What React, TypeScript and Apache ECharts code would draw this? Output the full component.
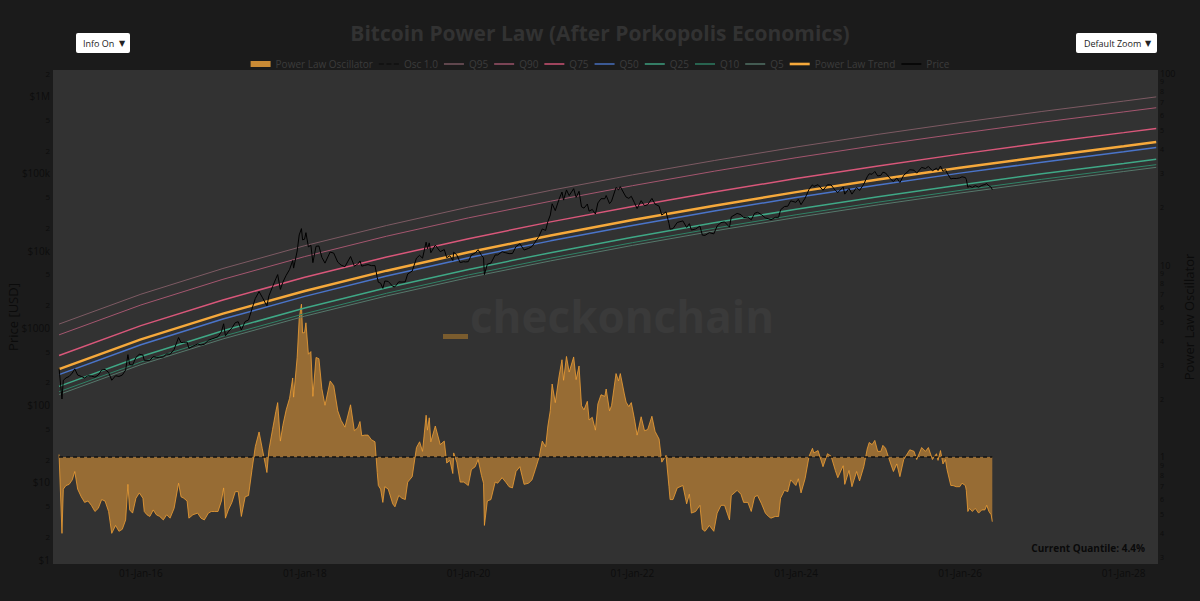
import React, { useEffect, useRef } from 'react';
import * as echarts from 'echarts';

// ---------- DATA ----------
const dates = [
  '2015-01-01','2015-01-14','2015-01-20','2015-02-01','2015-02-15','2015-03-01','2015-03-12','2015-03-25','2015-04-10','2015-04-25','2015-05-10','2015-05-25','2015-06-10','2015-06-25','2015-07-10','2015-07-25','2015-08-10','2015-08-24','2015-09-10','2015-09-25','2015-10-10','2015-10-25','2015-11-04','2015-11-12','2015-11-25','2015-12-10','2015-12-25',
  '2016-01-10','2016-01-16','2016-01-28','2016-02-10','2016-02-25','2016-03-10','2016-03-25','2016-04-10','2016-04-25','2016-05-10','2016-05-28','2016-06-17','2016-06-28','2016-07-10','2016-07-25','2016-08-02','2016-08-20','2016-09-10','2016-09-25','2016-10-10','2016-10-28','2016-11-10','2016-11-25','2016-12-10','2016-12-25',
  '2017-01-04','2017-01-12','2017-01-25','2017-02-10','2017-02-25','2017-03-10','2017-03-24','2017-04-10','2017-04-25','2017-05-10','2017-05-25','2017-06-11','2017-06-25','2017-07-16','2017-07-25','2017-08-10','2017-08-25','2017-09-02','2017-09-14','2017-09-25','2017-10-10','2017-10-25','2017-11-08','2017-11-12','2017-11-28','2017-12-07','2017-12-17','2017-12-22','2017-12-31',
  '2018-01-06','2018-01-17','2018-01-28','2018-02-06','2018-02-20','2018-03-05','2018-03-18','2018-04-01','2018-04-24','2018-05-10','2018-05-28','2018-06-12','2018-06-29','2018-07-24','2018-08-10','2018-08-25','2018-09-04','2018-09-12','2018-09-25','2018-10-10','2018-10-25','2018-11-10','2018-11-20','2018-11-25','2018-12-05','2018-12-15','2018-12-24',
  '2019-01-08','2019-01-28','2019-02-07','2019-02-24','2019-03-10','2019-03-25','2019-04-05','2019-04-25','2019-05-14','2019-05-28','2019-06-10','2019-06-26','2019-07-02','2019-07-10','2019-07-17','2019-08-06','2019-08-28','2019-09-15','2019-09-26','2019-10-10','2019-10-23','2019-10-27','2019-11-10','2019-11-25','2019-12-10','2019-12-18','2019-12-31',
  '2020-01-14','2020-01-31','2020-02-13','2020-02-28','2020-03-08','2020-03-12','2020-03-25','2020-04-10','2020-04-29','2020-05-10','2020-05-30','2020-06-15','2020-06-30','2020-07-15','2020-07-31','2020-08-17','2020-09-05','2020-09-25','2020-10-10','2020-10-25','2020-11-10','2020-11-25','2020-12-10','2020-12-20','2020-12-31',
  '2021-01-08','2021-01-22','2021-02-08','2021-02-21','2021-02-28','2021-03-13','2021-03-25','2021-04-14','2021-04-25','2021-05-08','2021-05-19','2021-05-30','2021-06-14','2021-06-22','2021-07-06','2021-07-20','2021-07-31','2021-08-14','2021-08-31','2021-09-06','2021-09-21','2021-09-30','2021-10-20','2021-10-31','2021-11-08','2021-11-26','2021-12-04','2021-12-16','2021-12-27',
  '2022-01-10','2022-01-22','2022-02-09','2022-02-24','2022-03-10','2022-03-29','2022-04-12','2022-04-30','2022-05-12','2022-05-31','2022-06-13','2022-06-18','2022-07-01','2022-07-20','2022-08-14','2022-08-31','2022-09-12','2022-09-21','2022-10-10','2022-10-29','2022-11-09','2022-11-21','2022-12-10','2022-12-30',
  '2023-01-14','2023-01-31','2023-02-16','2023-03-10','2023-03-18','2023-04-13','2023-04-30','2023-05-12','2023-05-31','2023-06-15','2023-06-30','2023-07-13','2023-07-31','2023-08-17','2023-08-31','2023-09-11','2023-09-30','2023-10-15','2023-10-24','2023-11-10','2023-11-25','2023-12-08','2023-12-31',
  '2024-01-11','2024-01-23','2024-02-10','2024-02-28','2024-03-14','2024-03-20','2024-04-08','2024-04-30','2024-05-20','2024-06-05','2024-06-24','2024-07-05','2024-07-29','2024-08-05','2024-08-24','2024-09-06','2024-09-27','2024-10-10','2024-10-29','2024-11-13','2024-11-22','2024-12-05','2024-12-17','2024-12-30',
  '2025-01-13','2025-01-22','2025-02-03','2025-02-26','2025-03-10','2025-03-25','2025-04-08','2025-04-25','2025-05-22','2025-06-10','2025-06-22','2025-07-14','2025-07-31','2025-08-13','2025-08-31','2025-09-18','2025-09-25','2025-10-06','2025-10-17','2025-10-28','2025-11-04','2025-11-21','2025-12-01','2025-12-15','2025-12-31',
  '2026-01-10','2026-01-25','2026-01-29','2026-02-05','2026-02-12','2026-02-25','2026-03-10','2026-03-25','2026-04-08','2026-04-22','2026-04-30','2026-05-10','2026-05-20','2026-05-25'
];

const price = [
  300,120,210,225,235,260,295,245,235,225,240,238,230,245,285,290,265,210,240,235,245,285,450,335,330,415,455,
  445,380,380,380,425,415,417,420,460,455,525,750,645,650,655,545,580,620,600,615,690,715,740,770,890,
  1130,790,890,1000,1170,1200,940,1210,1265,1750,2400,2950,2500,1930,2600,3400,4350,4900,3150,3900,4800,5700,7450,5950,9900,16000,19300,13800,14100,
  17100,11200,11800,7000,11400,11500,8200,6900,9600,9300,7100,6500,6200,8400,6300,6700,7350,6300,6450,6600,6400,6400,4500,3900,3800,3250,4050,
  4000,3450,3400,3950,3920,3950,5000,5450,8000,8700,8000,12900,10600,12600,9400,11800,9700,10350,8100,8600,7450,9550,8800,7000,7200,7150,7200,
  8800,9350,10300,8700,8100,4900,6700,6900,8800,8800,9700,9400,9150,9200,11300,12300,10200,10700,11300,13000,15300,19100,18300,23800,29000,
  40500,33000,46400,57500,45200,61200,51700,63500,49000,58800,37000,35600,40200,32500,34200,29800,41500,47100,47100,51800,40700,43800,65900,61300,67500,54100,49400,47600,50600,
  41800,35100,44400,38300,39400,47500,40100,37700,28900,31800,22500,19000,19300,23200,24300,20000,22400,18500,19100,20800,15900,15800,17100,16500,
  20900,23100,23600,20200,27400,30400,29300,26800,27200,25100,30500,31400,29200,26600,25900,25100,27000,27100,33900,37300,37700,44200,42300,
  46300,39500,47800,62400,71400,67900,71600,60600,71400,71000,60300,56700,66800,54000,64100,54000,65800,60300,72700,90500,98900,97800,106100,92800,
  94500,103700,101400,84300,78600,87500,76300,94700,111700,110300,100900,119800,115800,123300,108300,117000,109000,124700,106500,113000,101600,85000,86300,86000,87600,
  90500,88500,84000,66000,68500,66000,69500,66500,70000,72000,74000,69000,66500,61500
];

const oscillator = [
  1.03,0.40,0.68,0.71,0.72,0.76,0.84,0.68,0.62,0.58,0.59,0.56,0.52,0.54,0.60,0.59,0.52,0.40,0.44,0.41,0.42,0.47,0.72,0.53,0.51,0.61,0.65,
  0.61,0.52,0.50,0.49,0.53,0.50,0.49,0.47,0.50,0.48,0.54,0.73,0.62,0.61,0.59,0.48,0.50,0.51,0.48,0.47,0.51,0.52,0.52,0.52,0.59,
  0.69,0.48,0.53,0.58,0.66,0.66,0.49,0.62,0.63,0.85,1.13,1.35,1.11,0.83,1.09,1.39,1.73,1.92,1.21,1.46,1.76,2.02,2.58,2.05,3.31,5.27,6.25,4.43,4.45,
  5.0,3.43,3.54,2.07,3.30,3.25,2.27,1.86,2.49,2.35,1.74,1.55,1.43,1.87,1.37,1.42,1.53,1.29,1.30,1.30,1.23,1.20,0.83,0.71,0.68,0.58,0.70,
  0.68,0.57,0.55,0.63,0.61,0.60,0.74,0.79,1.12,1.20,1.07,1.65,1.38,1.60,1.20,1.45,1.16,1.21,0.93,0.96,0.82,1.05,0.94,0.74,0.74,0.73,0.71,
  0.86,0.89,0.97,0.80,0.73,0.44,0.59,0.60,0.74,0.73,0.78,0.74,0.70,0.69,0.84,0.89,0.72,0.73,0.76,0.86,0.99,1.21,1.13,1.45,1.75,
  2.40,1.92,2.64,3.21,2.51,3.34,2.77,3.32,2.53,2.98,1.85,1.76,1.95,1.56,1.61,1.38,1.89,2.11,2.07,2.26,1.74,1.85,2.72,2.49,2.72,2.13,1.93,1.83,1.92,
  1.58,1.30,1.62,1.37,1.39,1.63,1.36,1.24,0.94,1.02,0.70,0.60,0.60,0.69,0.71,0.57,0.64,0.51,0.52,0.56,0.42,0.41,0.44,0.41,
  0.51,0.56,0.56,0.47,0.63,0.67,0.64,0.58,0.58,0.52,0.62,0.63,0.57,0.51,0.49,0.48,0.49,0.49,0.61,0.67,0.66,0.76,0.71,
  0.77,0.65,0.77,1.01,1.11,1.05,1.08,0.89,1.04,1.01,0.85,0.78,0.90,0.72,0.85,0.70,0.84,0.75,0.89,1.10,1.19,1.16,1.22,1.07,
  1.07,1.15,1.11,0.92,0.84,0.92,0.79,0.97,1.09,1.07,0.97,1.12,1.07,1.12,0.97,1.04,0.96,1.08,0.92,0.97,0.86,0.71,0.71,0.70,0.70,
  0.73,0.71,0.67,0.52,0.54,0.52,0.54,0.51,0.53,0.53,0.56,0.52,0.50,0.46
];

const bandDates = ['2015-01-01','2016-01-01','2017-01-01','2018-01-01','2019-01-01','2020-01-01','2021-01-01','2022-01-01','2023-01-01','2024-01-01','2025-01-01','2026-01-01','2027-01-01','2028-01-01','2028-05-25'];
const trend = [292, 710, 1530, 3010, 5510, 9530, 15700, 24900, 38300, 57300, 83500, 118500, 165000, 225000, 255000];
const q95 = [1120, 2730, 5880, 11600, 21200, 36700, 60400, 95800, 147000, 220000, 321000, 456000, 635000, 865000, 981000];
const q90 = [813, 1980, 4260, 8390, 15400, 26600, 43700, 69400, 107000, 160000, 233000, 330000, 460000, 627000, 710000];
const q75 = [438, 1070, 2300, 4520, 8270, 14300, 23600, 37400, 57500, 86000, 125000, 178000, 248000, 338000, 383000];
const q50 = [248, 604, 1300, 2560, 4690, 8110, 13400, 21200, 32600, 48800, 71100, 101000, 140000, 191000, 217000];
const q25 = [175, 426, 918, 1810, 3310, 5720, 9420, 14900, 23000, 34400, 50100, 71100, 99000, 135000, 153000];
const q10 = [149, 361, 779, 1530, 2810, 4850, 7990, 12700, 19500, 29200, 42500, 60300, 84000, 115000, 130000];
const q5 = [137, 334, 719, 1420, 2590, 4480, 7380, 11700, 18000, 26900, 39200, 55700, 77600, 106000, 120000];

const oscBaseDates = ['2015-01-01', '2026-05-25'];
const oscBaseValue = [1, 1];

const priceTicks = [1, 2, 5, 10, 20, 50, 100, 200, 500, 1000, 2000, 5000, 10000, 20000, 50000, 100000, 200000, 500000, 1000000, 2000000];
const priceMajorLabels = ['$1', '$10', '$100', '$1000', '$10k', '$100k', '$1M'];
const oscTicks = [0.3, 0.4, 0.5, 0.6, 0.7, 0.8, 0.9, 1, 2, 3, 4, 5, 6, 7, 8, 9, 10, 20, 30, 40, 50, 60, 70, 80, 90, 100];
const oscMajorLabels = ['1', '10', '100'];
const xTickYears = [2016, 2018, 2020, 2022, 2024, 2026, 2028];
const monthNames = ['Jan', 'Feb', 'Mar', 'Apr', 'May', 'Jun', 'Jul', 'Aug', 'Sep', 'Oct', 'Nov', 'Dec'];

const FONT = 'Open Sans, Noto Sans, sans-serif';

const toTs = (s: string) => {
  const [y, m, d] = s.split('-').map(Number);
  return Date.UTC(y, m - 1, d);
};

const ICON_RECT = 'path://M0,0h20v6h-20z';
const ICON_LINE = 'path://M0,0h20v1.4h-20z';
const ICON_THICK = 'path://M0,0h20v2.6h-20z';
const ICON_DASH = 'path://M0,0h5v1.6h-5z M7.5,0h5v1.6h-5z M15,0h5v1.6h-5z';

export default function App() {
  const ref = useRef<HTMLDivElement>(null);
  useEffect(() => {
    const el = ref.current;
    if (!el) return;
    const chart = echarts.init(el, null, { renderer: 'svg' });

    const lg = (v: number) => Math.log10(v);
    const toSeries = (ds: string[], vs: number[]) => ds.map((d, i) => [toTs(d), lg(vs[i])]);

    const fmtLog = (majors: string[]) => (v: number) => {
      const e = Math.round(v);
      if (Math.abs(v - e) < 0.005) {
        return '{maj|' + majors[e] + '}';
      }
      const m = Math.round(Math.pow(10, v - Math.floor(v)));
      return '{mn|' + m + '}';
    };

    const band = (name: string, vals: number[], color: string, width: number) => ({
      name,
      type: 'line',
      yAxisIndex: 0,
      data: toSeries(bandDates, vals),
      showSymbol: false,
      symbol: 'none',
      lineStyle: { color, width },
      itemStyle: { color },
      z: 3,
    });

    const option: any = {
      animation: false,
      backgroundColor: '#1b1b1b',
      title: {
        text: 'Bitcoin Power Law (After Porkopolis Economics)',
        left: 'center',
        top: 17,
        textStyle: { color: '#323232', fontSize: 21, fontWeight: 'bold', fontFamily: FONT },
      },
      legend: {
        top: 54,
        left: 'center',
        itemWidth: 20,
        itemHeight: 6,
        itemGap: 6,
        selectedMode: false,
        itemStyle: { borderWidth: 0 },
        textStyle: { color: '#3c3c3c', fontSize: 10, fontFamily: FONT },
        data: [
          { name: 'Power Law Oscillator', icon: ICON_RECT },
          { name: 'Osc 1.0', icon: ICON_DASH },
          { name: 'Q95', icon: ICON_LINE },
          { name: 'Q90', icon: ICON_LINE },
          { name: 'Q75', icon: ICON_LINE },
          { name: 'Q50', icon: ICON_LINE },
          { name: 'Q25', icon: ICON_LINE },
          { name: 'Q10', icon: ICON_LINE },
          { name: 'Q5', icon: ICON_LINE },
          { name: 'Power Law Trend', icon: ICON_THICK },
          { name: 'Price', icon: ICON_LINE },
        ],
      },
      grid: {
        left: 53, right: 42, top: 70, bottom: 37,
        outerBoundsMode: 'none',
        containLabel: false,
        show: true, backgroundColor: '#323232', borderWidth: 0,
      },
      xAxis: {
        type: 'value',
        min: Date.UTC(2014, 11, 5),
        max: Date.UTC(2028, 5, 2),
        axisLine: { show: false },
        axisTick: { show: false },
        splitLine: { show: false },
        axisLabel: {
          customValues: xTickYears.map((y) => Date.UTC(y, 0, 1)),
          color: '#0d0d0d',
          fontSize: 10,
          fontFamily: FONT,
          margin: 4,
          formatter: (v: number) => {
            const d = new Date(v);
            const dd = String(d.getUTCDate()).padStart(2, '0');
            return dd + '-' + monthNames[d.getUTCMonth()] + '-' + String(d.getUTCFullYear()).slice(2);
          },
        },
      },
      yAxis: [
        {
          type: 'value',
          position: 'left',
          min: -0.058,
          max: 6.34,
          axisLine: { show: false },
          axisTick: { show: false },
          splitLine: { show: false },
          axisLabel: {
            customValues: priceTicks.map(lg),
            margin: 3,
            color: '#0d0d0d',
            fontFamily: FONT,
            formatter: fmtLog(priceMajorLabels),
            rich: {
              maj: { fontSize: 10, color: '#0d0d0d', fontFamily: FONT },
              mn: { fontSize: 8, color: '#0d0d0d', fontFamily: FONT },
            },
          },
        },
        {
          type: 'value',
          position: 'right',
          min: -0.5575,
          max: 2.016,
          axisLine: { show: false },
          axisTick: { show: false },
          splitLine: { show: false },
          axisLabel: {
            customValues: oscTicks.map(lg),
            margin: 2,
            color: '#0d0d0d',
            fontFamily: FONT,
            formatter: fmtLog(oscMajorLabels),
            rich: {
              maj: { fontSize: 9, lineHeight: 9, color: '#0d0d0d', fontFamily: FONT },
              mn: { fontSize: 7, lineHeight: 7, color: '#0d0d0d', fontFamily: FONT },
            },
          },
        },
      ],
      graphic: [
        {
          type: 'text', z: 5, x: 13, y: 317, rotation: Math.PI / 2,
          style: { text: 'Price [USD]', textAlign: 'center', textVerticalAlign: 'middle', fill: '#0b0b0b', font: '13px ' + FONT },
        },
        {
          type: 'text', z: 5, x: 1189, y: 317, rotation: Math.PI / 2,
          style: { text: 'Power Law Oscillator', textAlign: 'center', textVerticalAlign: 'middle', fill: '#0b0b0b', font: '13px ' + FONT },
        },
        {
          type: 'text', z: 1, silent: true,
          style: { text: 'checkonchain', x: 470, y: 316, textVerticalAlign: 'middle', fill: '#3a3a3a', font: 'bold 44px ' + FONT },
        },
        { type: 'rect', z: 1, silent: true, shape: { x: 443, y: 334, width: 25, height: 5 }, style: { fill: '#7a5c2e' } },
        { type: 'rect', z: 10, shape: { x: 76, y: 33, width: 54, height: 20, r: 2 }, style: { fill: '#ffffff' } },
        { type: 'text', z: 11, style: { text: 'Info On', x: 83, y: 43, textVerticalAlign: 'middle', fill: '#222', font: '9px ' + FONT } },
        { type: 'text', z: 11, style: { text: '▼', x: 119, y: 43, textVerticalAlign: 'middle', fill: '#222', font: '8px DejaVu Sans' } },
        { type: 'rect', z: 10, shape: { x: 1076, y: 33, width: 81, height: 20, r: 2 }, style: { fill: '#ffffff' } },
        { type: 'text', z: 11, style: { text: 'Default Zoom', x: 1084, y: 43, textVerticalAlign: 'middle', fill: '#222', font: '9px ' + FONT } },
        { type: 'text', z: 11, style: { text: '▼', x: 1145, y: 43, textVerticalAlign: 'middle', fill: '#222', font: '8px DejaVu Sans' } },
        {
          type: 'text', z: 20,
          style: { text: 'Current Quantile: 4.4%', x: 1145, y: 548, textAlign: 'right', textVerticalAlign: 'middle', fill: '#0a0a0a', font: 'bold 10px ' + FONT },
        },
      ],
      series: [
        {
          name: 'Power Law Oscillator',
          type: 'line',
          yAxisIndex: 1,
          data: toSeries(dates, oscillator),
          showSymbol: false,
          symbol: 'none',
          lineStyle: { color: '#f0a035', width: 0.8 },
          itemStyle: { color: '#c98a35' },
          areaStyle: { color: 'rgba(240,160,55,0.76)', origin: 'auto' },
          z: 2,
        },
        {
          name: 'Osc 1.0',
          type: 'line',
          yAxisIndex: 1,
          data: toSeries(oscBaseDates, oscBaseValue),
          showSymbol: false,
          symbol: 'none',
          lineStyle: { color: '#111111', width: 1.5, type: [4, 3] },
          itemStyle: { color: '#111111' },
          z: 3,
        },
        band('Q95', q95, '#7d5a63', 1),
        band('Q90', q90, '#a4566f', 1),
        band('Q75', q75, '#d9577a', 1.5),
        band('Q50', q50, '#4a74c9', 1.5),
        band('Q25', q25, '#3fa886', 1.5),
        band('Q10', q10, '#2f8366', 1),
        band('Q5', q5, '#55786b', 1),
        band('Power Law Trend', trend, '#f6a93b', 2.5),
        {
          name: 'Price',
          type: 'line',
          yAxisIndex: 0,
          data: toSeries(dates, price),
          showSymbol: false,
          symbol: 'none',
          lineStyle: { color: '#000000', width: 1 },
          itemStyle: { color: '#000000' },
          z: 4,
        },
      ],
    };

    chart.setOption(option);
    return () => chart.dispose();
  }, []);

  return (
    <div
      ref={ref}
      style={{ position: 'fixed', left: 0, top: 0, width: 1200, height: 601, background: '#1b1b1b' }}
    />
  );
}
